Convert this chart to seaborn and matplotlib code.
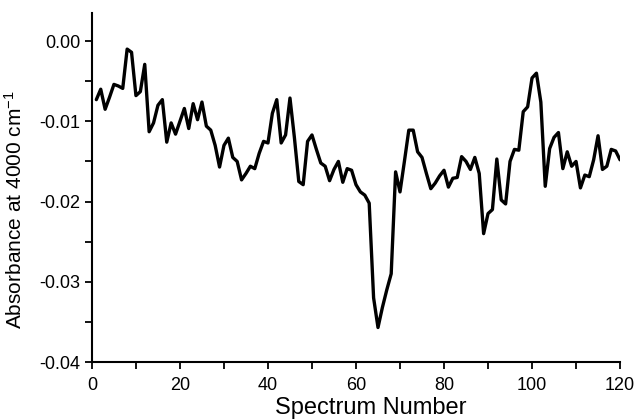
import matplotlib
matplotlib.use('Agg')
import matplotlib.pyplot as plt
import seaborn as sns
import numpy as np
from matplotlib.ticker import MultipleLocator

spectrum = np.arange(1, 121)
absorbance = [
    -0.0073, -0.0060, -0.0085, -0.0070, -0.0054, -0.0056, -0.0059, -0.0010, -0.0014, -0.0068,
    -0.0063, -0.0029, -0.0113, -0.0102, -0.0080, -0.0073, -0.0126, -0.0102, -0.0116, -0.0100,
    -0.0084, -0.0109, -0.0078, -0.0098, -0.0076, -0.0106, -0.0111, -0.0130, -0.0157, -0.0130,
    -0.0121, -0.0145, -0.0150, -0.0173, -0.0165, -0.0156, -0.0159, -0.0140, -0.0125, -0.0127,
    -0.0090, -0.0073, -0.0127, -0.0117, -0.0071, -0.0120, -0.0175, -0.0179, -0.0125, -0.0117,
    -0.0135, -0.0152, -0.0156, -0.0174, -0.0160, -0.0150, -0.0176, -0.0159, -0.0161, -0.0179,
    -0.0188, -0.0192, -0.0202, -0.0320, -0.0357, -0.0332, -0.0310, -0.0290, -0.0163, -0.0188,
    -0.0150, -0.0111, -0.0111, -0.0138, -0.0145, -0.0165, -0.0184, -0.0177, -0.0168, -0.0161,
    -0.0182, -0.0171, -0.0170, -0.0144, -0.0150, -0.0160, -0.0145, -0.0165, -0.0240, -0.0215,
    -0.0210, -0.0147, -0.0198, -0.0203, -0.0150, -0.0135, -0.0136, -0.0088, -0.0082, -0.0046,
    -0.0040, -0.0076, -0.0181, -0.0134, -0.0120, -0.0114, -0.0159, -0.0138, -0.0156, -0.0150,
    -0.0183, -0.0167, -0.0169, -0.0148, -0.0118, -0.0160, -0.0156, -0.0135, -0.0137, -0.0148,
]

sns.set_style('ticks')
plt.rcParams['font.family'] = ['Liberation Sans', 'DejaVu Sans']
plt.rcParams['mathtext.default'] = 'regular'

fig = plt.figure(figsize=(6.34, 4.19), dpi=100)
ax = fig.add_axes([0.145, 0.136, 0.833, 0.833])

sns.lineplot(x=spectrum, y=absorbance, ax=ax, color='black', linewidth=2.4)

ax.set_xlim(0, 120)
ax.set_ylim(-0.04, 0.0035)
ax.xaxis.set_major_locator(MultipleLocator(20))
ax.xaxis.set_minor_locator(MultipleLocator(10))
ax.yaxis.set_major_locator(MultipleLocator(0.01))
ax.yaxis.set_minor_locator(MultipleLocator(0.005))
ax.yaxis.set_major_formatter(matplotlib.ticker.FormatStrFormatter('%.2f'))

ax.tick_params(which='both', direction='out', length=5, width=1.3, colors='black', labelsize=13)
ax.tick_params(axis='x', pad=6)
for side in ['top', 'right']:
    ax.spines[side].set_visible(False)
for side in ['left', 'bottom']:
    ax.spines[side].set_linewidth(1.5)
    ax.spines[side].set_color('black')

ax.set_xlabel('Spectrum Number', fontsize=17, color='black')
ax.set_ylabel('Absorbance at 4000 cm$^{-1}$', fontsize=15, color='black')
ax.xaxis.set_label_coords(0.528, -0.1)
ax.yaxis.set_label_coords(-0.125, 0.435)

fig.savefig('out.png', dpi=100)
